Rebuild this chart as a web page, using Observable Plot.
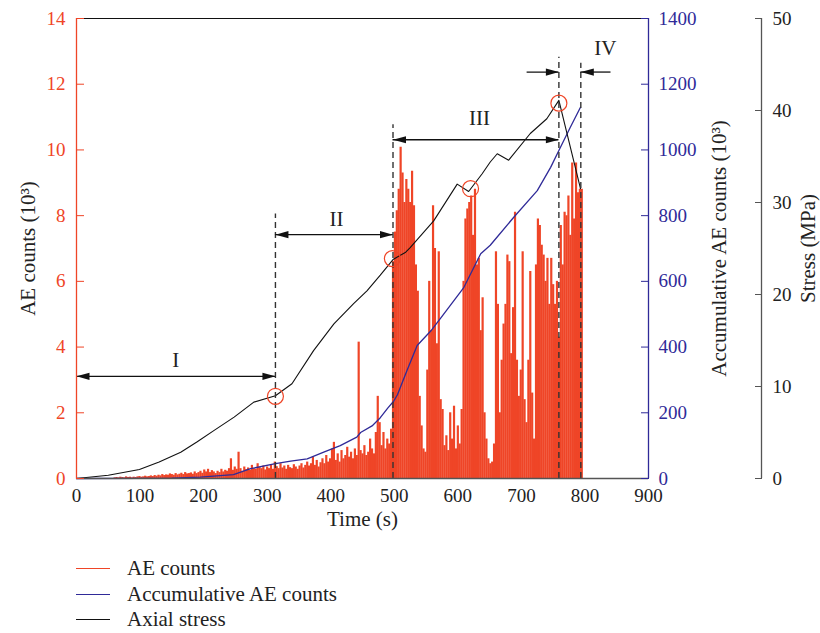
<!DOCTYPE html>
<html><head><meta charset="utf-8">
<script src="https://cdn.jsdelivr.net/npm/d3@7"></script>
<script src="https://cdn.jsdelivr.net/npm/@observablehq/plot@0.6"></script>
<style>
body{margin:0;background:#fff;font-family:"Liberation Serif",serif;}
#wrap{position:relative;width:820px;height:633px;}
.legend{position:absolute;left:76px;top:556px;font-size:21px;color:#222;}
.row{display:flex;align-items:center;height:25.5px;}
.sw{width:34px;height:0;border-top:1.5px solid;margin-right:17px;}
</style></head><body>
<div id="wrap"><div id="chart"></div>
<div class="legend">
<div class="row"><span class="sw" style="border-color:#ef4527"></span>AE counts</div>
<div class="row"><span class="sw" style="border-color:#2f2a98"></span>Accumulative AE counts</div>
<div class="row"><span class="sw" style="border-color:#111"></span>Axial stress</div>
</div></div>
<script>
// ---- data ----
const xTicks = [0,100,200,300,400,500,600,700,800,900];
const aeTicks = [0,2,4,6,8,10,12,14];
const cumTicks = [0,200,400,600,800,1000,1200,1400];
const stressTicks = [0,10,20,30,40,50];

const aeTime = [
 60,63,66,69,72,75,78,81,84,87,
 90,93,96,99,102,105,108,111,114,117,
 120,123,126,129,132,135,138,141,144,147,
 150,153,156,159,162,165,168,171,174,177,
 180,183,186,189,192,195,198,201,204,207,
 210,213,216,219,222,225,228,231,234,237,
 240,243,246,249,252,255,258,261,264,267,
 270,273,276,279,282,285,288,291,294,297,
 300,303,306,309,312,315,318,321,324,327,
 330,333,336,339,342,345,348,351,354,357,
 360,363,366,369,372,375,378,381,384,387,
 390,393,396,399,402,405,408,411,414,417,
 420,423,426,429,432,435,438,441,444,447,
 450,453,456,459,462,465,468,471,474,477,
 480,483,486,489,492,495,498,501,504,507,
 510,513,516,519,522,525,528,531,534,537,
 540,543,546,549,552,555,558,561,564,567,
 570,573,576,579,582,585,588,591,594,597,
 600,603,606,609,612,615,618,621,624,627,
 630,633,636,639,642,645,648,651,654,657,
 660,663,666,669,672,675,678,681,684,687,
 690,693,696,699,702,705,708,711,714,717,
 720,723,726,729,732,735,738,741,744,747,
 750,753,756,759,762,765,768,771,774,777,
 780,783,786,789,792,795
];
const aeCounts = [
 0.02,0.03,0.02,0.04,0.03,0.02,0.05,0.03,0.04,0.02,
 0.04,0.03,0.05,0.06,0.04,0.05,0.07,0.05,0.06,0.08,
 0.06,0.09,0.07,0.1,0.08,0.12,0.09,0.11,0.1,0.14,
 0.12,0.1,0.15,0.11,0.13,0.16,0.12,0.18,0.14,0.15,
 0.17,0.13,0.2,0.15,0.18,0.22,0.16,0.26,0.2,0.28,
 0.18,0.24,0.2,0.15,0.22,0.18,0.28,0.2,0.25,0.22,
 0.3,0.6,0.25,0.35,0.28,0.8,0.3,0.22,0.35,0.27,
 0.32,0.25,0.4,0.3,0.28,0.45,0.33,0.3,0.38,0.26,
 0.35,0.3,0.42,0.28,0.5,0.36,0.3,0.45,0.32,0.38,
 0.28,0.4,0.33,0.3,0.42,0.35,0.28,0.38,0.45,0.32,
 0.4,0.5,0.38,0.45,0.65,0.4,0.55,0.35,0.48,0.6,
 0.45,0.7,0.5,0.6,0.9,1.1,0.55,0.75,0.5,0.85,
 0.6,0.7,0.95,0.65,0.8,0.6,0.9,0.7,4.15,0.85,
 0.75,1.0,0.7,0.8,1.2,0.9,0.75,1.4,2.5,1.7,
 1.0,1.4,0.9,1.2,1.05,1.5,6.6,7.5,8.15,8.8,
 10.08,9.3,8.4,9.1,8.8,8.4,9.35,8.3,6.5,5.7,
 2.5,1.6,0.9,0.8,3.3,6.0,4.5,8.3,7.0,4.1,
 6.9,2.4,2.1,1.0,1.3,0.85,2.0,1.2,2.2,0.9,
 1.6,1.05,2.1,6.0,7.9,8.2,8.4,8.6,7.4,8.8,
 6.5,6.7,4.5,5.5,2.0,1.2,0.6,0.45,0.5,1.05,
 6.9,5.3,2.0,3.6,4.7,5.3,6.8,6.6,3.8,5.2,
 8.1,3.6,2.5,3.3,6.9,2.4,1.7,3.6,6.3,2.6,
 1.2,6.5,7.9,7.7,7.1,6.8,6.0,6.7,5.3,6.7,
 5.9,5.3,6.0,4.3,7.7,6.5,8.1,8.0,8.6,7.4,
 9.6,7.9,9.6,8.7,8.8,8.8
];
const cumTime = [0,100,150,195,247,274,313,337,363,389,415,441,447,465,478,490,499,505,520,536,557,573,609,636,651,688,725,746,759,777,793];
const cumAE = [0,0.5,1,4,12,30,45,53,60,80,100,126,140,160,185,215,235,255,329,405,448,488,580,684,710,795,876,947,998,1069,1130];
const stressTime = [0,50,99,130,164,190,216,248,279,313,339,373,405,436,457,478,498,518,525,562,599,617,638,651,662,680,714,740,759,793];
const stressMPa = [0,0.35,0.98,1.8,2.86,4.0,5.2,6.67,8.3,9.0,10.3,13.9,16.8,19.0,20.4,22.1,23.8,24.6,25.1,28.0,32.0,31.2,33.1,34.4,35.3,34.6,37.5,39.1,41.1,31.5];

const stageTime = [313,498,759,793.5];
const stageTop = [8.05,10.77,12.82,12.64];
const stageNames = ["I","II","III","IV"];
const stageLabelT = [156,409,634,832];
const stageLabelY = [3.6,7.9,10.96,13.09];
const arrowX1 = [0,313,498,709,793.5];
const arrowX2 = [313,498,759,759,841];
const arrowY = [3.11,7.42,10.31,12.37,12.37];
const headRightT = [313,498,759,759];
const headRightY = [3.11,7.42,10.31,12.37];
const headLeftT = [0,313,498,793.5];
const headLeftY = [3.11,7.42,10.31,12.37];
const circleT = [313,497,620,759];
const circleMPa = [8.93,23.9,31.5,40.8];

// ---- build ----
const red = "#ef4527", blue = "#2f2a98", gray = "#555", ink = "#222";
const AEmax = 14, cumMax = 1400, sMax = 50;
const ae = aeTime.map((t,i)=>({t, v: aeCounts[i]}));
const cum = cumTime.map((t,i)=>({t, v: cumAE[i]*AEmax/cumMax}));
const stress = stressTime.map((t,i)=>({t, v: stressMPa[i]*AEmax/sMax}));
const stages = stageTime.map((t,i)=>({t, top: stageTop[i]}));
const labels = stageNames.map((n,i)=>({n, t: stageLabelT[i], y: stageLabelY[i]}));
const arrows = arrowX1.map((x1,i)=>({x1, x2: arrowX2[i], y: arrowY[i]}));
const headsR = headRightT.map((t,i)=>({t, y: headRightY[i]}));
const headsL = headLeftT.map((t,i)=>({t, y: headLeftY[i]}));
const circles = circleT.map((t,i)=>({t, y: circleMPa[i]*AEmax/sMax}));

const headRight = {draw(ctx){ctx.moveTo(0,0);ctx.lineTo(-13,-3.6);ctx.lineTo(-13,3.6);ctx.closePath();}};
const headLeft = {draw(ctx){ctx.moveTo(0,0);ctx.lineTo(13,-3.6);ctx.lineTo(13,3.6);ctx.closePath();}};

const chart = Plot.plot({
  width: 820, height: 540,
  marginLeft: 76, marginRight: 172, marginTop: 18, marginBottom: 62,
  style: {fontFamily: "'Liberation Serif', serif", fontSize: "19px", background: "white", color: ink},
  x: {domain: [0,900]},
  y: {domain: [0,14]},
  marks: [
    Plot.ruleX(ae, {x: "t", y1: 0, y2: "v", stroke: red, strokeWidth: 2.2}),
    Plot.line(cum, {x: "t", y: "v", stroke: blue, strokeWidth: 1.3}),
    Plot.line(stress, {x: "t", y: "v", stroke: "#111", strokeWidth: 1.1}),
    Plot.ruleX(stages, {x: "t", y1: 0, y2: "top", stroke: "#333", strokeWidth: 1.4, strokeDasharray: "6,4"}),
    Plot.ruleY(arrows, {y: "y", x1: "x1", x2: "x2", stroke: "#111", strokeWidth: 1.3}),
    Plot.dot(headsR, {x: "t", y: "y", symbol: headRight, fill: "#111", stroke: "none"}),
    Plot.dot(headsL, {x: "t", y: "y", symbol: headLeft, fill: "#111", stroke: "none"}),
    Plot.text(labels, {x: "t", y: "y", text: "n", fill: ink, fontSize: 21}),
    Plot.dot(circles, {x: "t", y: "y", r: 8, stroke: red, fill: "none", strokeWidth: 1.2}),
    // axis lines / frame
    Plot.ruleY([0], {stroke: gray, strokeWidth: 1.3}),
    Plot.ruleY([14], {stroke: "#111", strokeWidth: 1.2}),
    Plot.ruleX([0], {stroke: red, strokeWidth: 1.3}),
    Plot.ruleX([900], {stroke: blue, strokeWidth: 1.3}),
    Plot.ruleX([900], {dx: 113, stroke: gray, strokeWidth: 1.3}),
    // axes
    Plot.axisX(xTicks, {tickSize: 0, tickPadding: 10, label: null, fill: ink}),
    Plot.axisY(aeTicks, {anchor: "left", tickSize: 8, dx: 8, tickPadding: 11, color: red, label: null}),
    Plot.axisY(cumTicks.map(v=>v*AEmax/cumMax), {anchor: "right", tickSize: 8, dx: -8, tickPadding: 10, color: blue, label: null, tickFormat: d=>String(Math.round(d*cumMax/AEmax))}),
    Plot.axisY(stressTicks.map(v=>v*AEmax/sMax), {anchor: "right", tickSize: 7, dx: 106, tickPadding: 11, stroke: gray, fill: ink, label: null, tickFormat: d=>String(Math.round(d*sMax/AEmax))}),
    // axis titles
    Plot.text(["AE counts (10³)"], {text: d=>d, frameAnchor: "left", textAnchor: "middle", rotate: -90, dx: -48, fill: ink, fontSize: 21}),
    Plot.text(["Accumulative AE counts (10³)"], {text: d=>d, frameAnchor: "right", textAnchor: "middle", rotate: -90, dx: 71, fill: ink, fontSize: 21}),
    Plot.text(["Stress (MPa)"], {text: d=>d, frameAnchor: "right", textAnchor: "middle", rotate: -90, dx: 160, fill: ink, fontSize: 21}),
    Plot.text(["Time (s)"], {text: d=>d, frameAnchor: "bottom", dy: 47, fill: ink, fontSize: 21})
  ]
});
document.getElementById("chart").appendChild(chart);
</script>
</body></html>
